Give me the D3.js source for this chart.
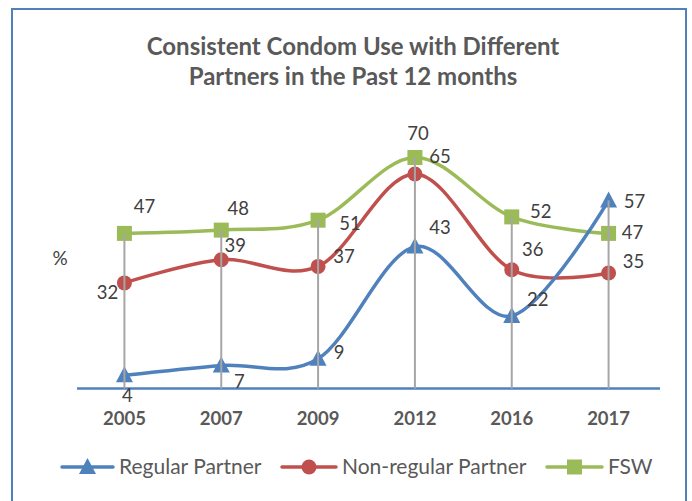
<!DOCTYPE html>
<html><head><meta charset="utf-8">
<script src="https://cdn.jsdelivr.net/npm/d3@7"></script>
<style>body{margin:0;background:#fff}svg{display:block}</style>
</head><body><svg id="c" width="692" height="501"></svg>
<script>
const years = ["2005","2007","2009","2012","2016","2017"];
const regularPartner = [4,7,9,43,22,57];
const nonRegularPartner = [32,39,37,65,36,35];
const fsw = [47,48,51,70,52,47];
const seriesNames = ["Regular Partner","Non-regular Partner","FSW"];
const titleLines = ["Consistent Condom Use with Different","Partners in the Past 12 months"];

// label offsets (layout only)
const labelOffsets = {
  "Regular Partner": [[3,20],[18,16],[21,-6],[25,-19],[26,-16],[26,1]],
  "Non-regular Partner": [[-17,10],[14,-14],[26,-10],[25,-17],[21,-20],[25,-11]],
  "FSW": [[20,-27],[17,-22],[32,3],[3,-24],[29,-5],[24,-1]]
};

const series = [
  {name:seriesNames[0], values:regularPartner, color:"#4F81BD", marker:"triangle"},
  {name:seriesNames[1], values:nonRegularPartner, color:"#C0504D", marker:"circle"},
  {name:seriesNames[2], values:fsw, color:"#9BBB59", marker:"square"}
];

const svg = d3.select("#c");
const font = "Lato, 'Open Sans', sans-serif";

// frame
svg.append("rect").attr("x",12).attr("y",9).attr("width",674).attr("height",500)
  .attr("fill","#fff").attr("stroke","#4F81BD").attr("stroke-width",2);

// title
svg.append("text").attr("x",353).attr("y",55).attr("text-anchor","middle")
  .attr("font-family",font).attr("font-weight","bold").attr("font-size",24).attr("fill","#595959")
  .selectAll("tspan").data(titleLines).join("tspan")
  .attr("x",353).attr("dy",(d,i)=>i===0?0:30).text(d=>d);

const x = d3.scaleBand().domain(years).range([76,657]);
const cx = d => x(d) + x.bandwidth()/2;
const y = d3.scaleLinear().domain([0,80]).range([388.5,124.5]);

const maxVals = years.map((yr,i)=>d3.max(series, s=>s.values[i]));

// x axis
const xAxis = d3.axisBottom(x).tickSize(0).tickPadding(23);
const gx = svg.append("g").attr("transform",`translate(0,${y(0)})`).call(xAxis);
gx.select(".domain").attr("stroke","#4F81BD").attr("stroke-width",2.5).attr("d","M77,0H660");
gx.selectAll("text").attr("font-family",font).attr("font-weight","bold")
  .attr("font-size",18.5).attr("fill","#595959");

// y label
svg.append("text").attr("x",60).attr("y",265).attr("text-anchor","middle")
  .attr("font-family",font).attr("font-size",19).attr("fill","#404040").text("%");

const line = d3.line().x((d,i)=>cx(years[i])).y(d=>y(d)).curve(d3.curveCatmullRom.alpha(0));

function drawMarker(g, type, color){
  if(type==="triangle") g.append("path").attr("d","M0,-9L8.5,7L-8.5,7Z").attr("fill",color);
  else if(type==="circle") g.append("circle").attr("r",7.5).attr("fill",color);
  else g.append("rect").attr("x",-7.5).attr("y",-7.5).attr("width",15).attr("height",15).attr("fill",color);
}

const drawOrder = [series[2], series[1], series[0]];
drawOrder.forEach(s=>{
  svg.append("path").datum(s.values).attr("d",line).attr("fill","none")
    .attr("stroke",s.color).attr("stroke-width",3.5).attr("stroke-linecap","round");
});
drawOrder.forEach(s=>{
  s.values.forEach((v,i)=>{
    const g = svg.append("g").attr("transform",`translate(${cx(years[i])},${y(v)})`);
    drawMarker(g, s.marker, s.color);
  });
});
// drop lines (drawn over markers as in the reference)
svg.append("g").selectAll("line").data(years).join("line")
  .attr("x1",cx).attr("x2",cx)
  .attr("y1",(d,i)=>y(maxVals[i])).attr("y2",y(0))
  .attr("stroke","#A6A6A6").attr("stroke-width",2);

// labels
series.forEach(s=>{
  svg.append("g").selectAll("text").data(s.values).join("text")
    .attr("x",(d,i)=>cx(years[i])+labelOffsets[s.name][i][0])
    .attr("y",(d,i)=>y(d)+labelOffsets[s.name][i][1])
    .attr("dy","0.35em").attr("text-anchor","middle")
    .attr("font-family",font).attr("font-size",18.5).attr("fill","#404040")
    .text(d=>d);
});

// legend
const legendX = [[62,113],[282,336],[547,602]];
const ly = 467;
series.forEach((s,i)=>{
  const [a,b] = legendX[i];
  svg.append("line").attr("x1",a).attr("x2",b).attr("y1",ly).attr("y2",ly)
    .attr("stroke",s.color).attr("stroke-width",3.5).attr("stroke-linecap","round");
  const g = svg.append("g").attr("transform",`translate(${(a+b)/2},${ly})`);
  drawMarker(g, s.marker, s.color);
  svg.append("text").attr("x",b+6).attr("y",ly).attr("dy","0.35em")
    .attr("font-family",font).attr("font-size",21).attr("fill","#595959").text(s.name);
});
</script></body></html>
